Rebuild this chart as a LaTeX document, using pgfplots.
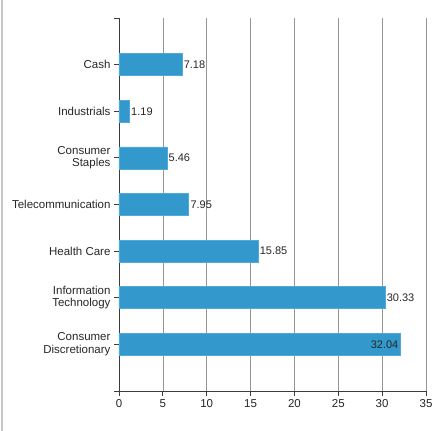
\documentclass[border=0pt]{standalone}
\usepackage{pgfplots}
\pgfplotsset{compat=1.18}
\usepackage{fontspec}
\setmainfont{Liberation Sans}
\definecolor{barblue}{RGB}{51,153,204}
\definecolor{baredge}{RGB}{80,170,215}
\definecolor{gridgray}{RGB}{150,150,150}
\definecolor{axisdark}{RGB}{60,60,60}
\begin{document}
\begin{tikzpicture}[x=1bp,y=1bp]
\path[use as bounding box] (-119bp,-40bp) rectangle (313bp,391bp);
\draw[line width=2bp, draw={rgb,255:red,200;green,200;blue,200}] (-117bp,-40bp) -- (-117bp,391bp);
\begin{axis}[
  at={(0,0)}, anchor=south west,
  scale only axis, width=307bp, height=373bp,
  xbar, bar width=22bp, bar shift=0pt,
  xmin=0, xmax=35, ymin=-1, ymax=7,
  xtick={0,5,...,35},
  ytick={0,1,2,3,4,5,6},
  yticklabels={{Consumer\\Discretionary},{Information\\Technology},Health Care,Telecommunication,{Consumer\\Staples},Industrials,Cash},
  yticklabel style={align=right, font=\fontsize{11.5bp}{12.5bp}\selectfont, text=black!85},
  xticklabel style={font=\fontsize{11.5bp}{12.5bp}\selectfont, text=black!85},
  /pgf/number format/assume math mode=true,
  extra y ticks={-1,7}, extra y tick labels={},
  extra y tick style={grid=none},
  axis x line*=bottom, axis y line*=left,
  axis line style={-, draw=axisdark, line width=0.8bp},
  tick style={draw=axisdark, line width=0.8bp},
  tick align=outside, major tick length=5bp,
  xmajorgrids, grid style={draw=gridgray, line width=0.7bp},
  ymajorgrids=false,
  point meta=explicit symbolic,
  legend style={at={(0.245,-0.1)}, anchor=north west, draw=none, fill=none, font=\fontsize{11.5bp}{12.5bp}\selectfont},
  legend image code/.code={\fill[barblue] (0bp,-3bp) rectangle (20bp,3bp);},
  clip=false,
]
\addplot[fill=barblue, draw=baredge, line width=0.6bp,
  nodes near coords,
  every node near coord/.style={anchor=west, font=\fontsize{11bp}{12bp}\selectfont, text=black!85, inner sep=1.5bp}]
  coordinates {
  (32.04,0) []
  (30.33,1) [30.33]
  (15.85,2) [15.85]
  (7.95,3) [7.95]
  (5.46,4) [5.46]
  (1.19,5) [1.19]
  (7.18,6) [7.18]
};
\addlegendentry{Series1}
\addplot[draw=none, fill=none, forget plot,
  nodes near coords,
  every node near coord/.style={anchor=east, font=\fontsize{11bp}{12bp}\selectfont, text=black!85, inner sep=1.5bp}]
  coordinates {(32.04,0) [32.04]};
\end{axis}
\end{tikzpicture}
\end{document}
